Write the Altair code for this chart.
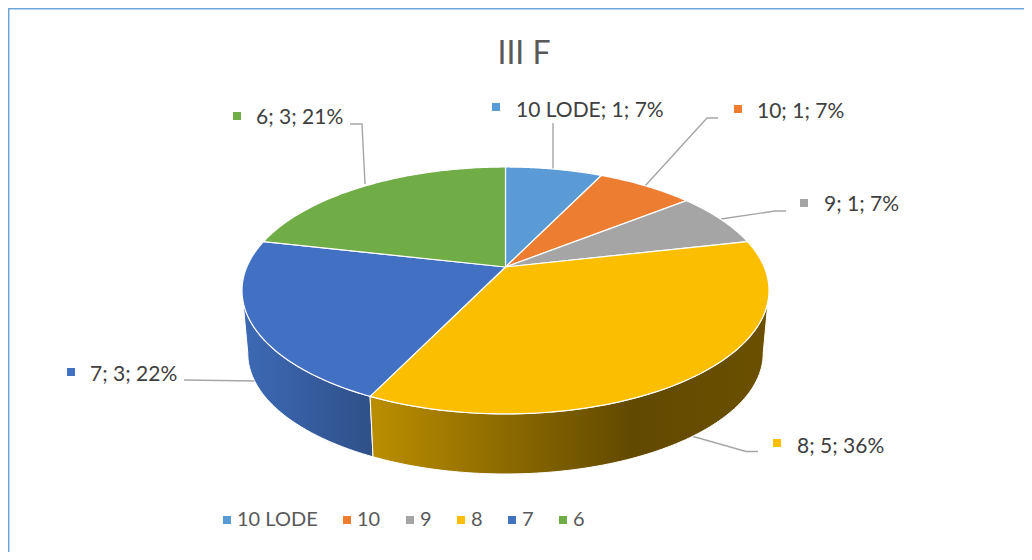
import math
import altair as alt
import pandas as pd

# ---- data ----
categories = ["10 LODE", "10", "9", "8", "7", "6"]
values = [1, 1, 1, 5, 3, 3]
percent_labels = ["7%", "7%", "7%", "36%", "22%", "21%"]
colors = ["#5b9bd5", "#ed7d31", "#a5a5a5", "#fbbe00", "#4270c2", "#70ad47"]

# ---- layout (screen pixels of the reference) ----
W, H = 1016, 544
CX, CY, A, B, K = 505.5, 267.0, 258.7, 119.0, 0.19   # perspective disc
DEPTH_SHIFT, DEPTH_SCALE = 62.8, 0.978               # wall bottom ellipse
EC_Y = 290.5
label_x = [516, 757, 824, 797, 90, 256]
label_y = [117, 118, 211, 452.5, 381, 124]
marker_x = [496, 738, 804, 777, 71, 237]
marker_y = [107, 109, 203, 443, 372, 116]
leaders = [
    [(553, 123), (553, 170)],
    [(645, 186), (707, 118), (718, 118)],
    [(721, 219), (775, 211), (786, 211)],
    [(688, 435), (746, 451.5), (758, 451.5)],
    [(184, 380), (258, 381)],
    [(350, 124), (362, 124), (365, 184)],
]
FONT = "Lato"
TXT = "#404040"


def top_pt(deg):
    t = math.radians(deg)
    X, Y = math.sin(t), math.cos(t)
    w = 1 + K * Y
    return CX + A * X / w, CY - B * Y / w


def bot_pt(deg):
    x, y = top_pt(deg)
    return CX + DEPTH_SCALE * (x - CX), EC_Y + DEPTH_SHIFT + DEPTH_SCALE * (y - EC_Y)


def sweep(a, b, n=90):
    return [a + (b - a) * i / n for i in range(n + 1)]


xs = alt.X("x:Q", scale=alt.Scale(domain=[8, 8 + W], nice=False, zero=False), axis=None)
ys = alt.Y("y:Q", scale=alt.Scale(domain=[8 + H, 8], nice=False, zero=False), axis=None)


def poly(pts, **mark):
    df = pd.DataFrame({"x": [p[0] for p in pts], "y": [p[1] for p in pts], "i": range(len(pts))})
    return alt.Chart(df).mark_line(filled=True, **mark).encode(x=xs, y=ys, order=alt.Order("i:Q"))


def path(pts, **mark):
    df = pd.DataFrame({"x": [p[0] for p in pts], "y": [p[1] for p in pts], "i": range(len(pts))})
    return alt.Chart(df).mark_line(**mark).encode(x=xs, y=ys, order=alt.Order("i:Q"))


total = sum(values)
edges = [0.0]
for v in values:
    edges.append(edges[-1] + 360.0 * v / total)

layers = []

# frame
layers.append(path([(8.5, 8 + H), (8.5, 8.6), (8 + W, 8.6)], stroke="#6ea5da", strokeWidth=2))

# leader lines
for pts in leaders:
    layers.append(path(pts, stroke="#a6a6a6", strokeWidth=1.4))

# walls
SIL = math.degrees(math.acos(-K))
a8, b8 = edges[3], edges[4]
yellow_wall = alt.LinearGradient(
    gradient="linear", x1=0, x2=1, y1=0, y2=0,
    stops=[
        alt.GradientStop(color="#bb8e00", offset=0),
        alt.GradientStop(color="#614900", offset=0.66),
        alt.GradientStop(color="#6b5000", offset=1),
    ],
)
blue_wall = alt.LinearGradient(
    gradient="linear", x1=0, x2=1, y1=0, y2=0,
    stops=[
        alt.GradientStop(color="#3d6ab6", offset=0),
        alt.GradientStop(color="#2f5088", offset=1),
    ],
)
yw = [top_pt(d) for d in sweep(SIL, b8)] + [bot_pt(d) for d in sweep(b8, SIL)]
bw = [top_pt(d) for d in sweep(b8, 360 - SIL)] + [bot_pt(d) for d in sweep(360 - SIL, b8)]
layers.append(poly(bw + bw[:1], fill=blue_wall, stroke="white", strokeWidth=1))
layers.append(poly(yw + yw[:1], fill=yellow_wall, stroke="white", strokeWidth=1))

# top face slices
for i, c in enumerate(colors):
    pts = [(CX, CY)] + [top_pt(d) for d in sweep(edges[i], edges[i + 1])] + [(CX, CY)]
    layers.append(poly(pts, fill=c, stroke="white", strokeWidth=1.2))

# markers with legend
mk = pd.DataFrame({"x": marker_x, "y": marker_y, "cat": categories})
layers.append(
    alt.Chart(mk).mark_square(size=64, opacity=1).encode(
        x=xs, y=ys,
        color=alt.Color(
            "cat:N",
            scale=alt.Scale(domain=categories, range=colors),
            legend=alt.Legend(
                orient="none", legendX=209, legendY=502, direction="horizontal",
                columns=6, title=None, symbolType="square", symbolSize=64,
                symbolStrokeWidth=0, symbolOpacity=1, labelFont=FONT, labelFontSize=20,
                labelColor="#595959", columnPadding=19, labelOffset=0,
            ),
        ),
    )
)

# data labels
txt = [f"{c}; {v}; {p}" for c, v, p in zip(categories, values, percent_labels)]
lab = pd.DataFrame({"x": label_x, "y": label_y, "t": txt})
layers.append(
    alt.Chart(lab).mark_text(align="left", baseline="alphabetic", font=FONT, fontSize=21, color=TXT).encode(
        x=xs, y=ys, text="t:N"
    )
)

chart = (
    alt.layer(*layers)
    .properties(
        width=W, height=H, padding=0,
        autosize=alt.AutoSizeParams(type="none"),
        title=alt.TitleParams(
            "III F", font=FONT, fontSize=32, fontWeight="normal", color="#595959",
            anchor="middle", frame="group", dx=8, dy=91, offset=0, baseline="alphabetic",
        ),
    )
    .configure_view(stroke=None)
    .resolve_scale(x="shared", y="shared")
)
chart.save("out.html", embed_options={"renderer": "svg", "actions": False})
